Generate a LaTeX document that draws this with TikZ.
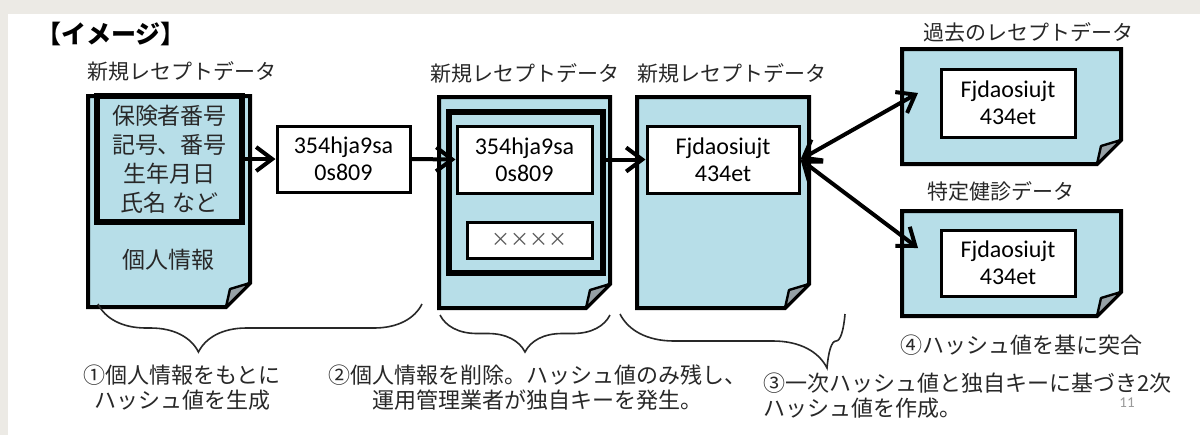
\documentclass[tikz,border=0pt]{standalone}
\usepackage{fontspec}
\setmainfont{Noto Sans CJK JP}
\newfontfamily\boxfont{Carlito}
\usetikzlibrary{arrows.meta}
\usetikzlibrary{decorations.pathreplacing}
\definecolor{docblue}{RGB}{183,222,232}
\definecolor{foldgray}{RGB}{150,160,165}
\definecolor{pagegray}{RGB}{236,234,229}
\definecolor{inkgray}{RGB}{40,40,40}
\tikzset{
	doc/.style={rectangle, inner sep=0pt, outer sep=0pt},
	docline/.style={draw=black, line width=2pt, fill=docblue},
	foldline/.style={draw=black, line width=1.2pt, fill=foldgray, line join=round},
	thickbox/.style={rectangle, draw=black, line width=3pt, fill=docblue, inner sep=0pt, text centered, align=center},
	hashbox/.style={rectangle, draw=black, line width=1.5pt, fill=white, text centered, align=center, inner sep=0pt, font=\boxfont\fontsize{12}{13.5}\selectfont},
	lbl/.style={font=\fontsize{10.5}{12}\selectfont, text=inkgray, inner sep=0pt},
	capt/.style={font=\fontsize{11}{12.5}\selectfont, text=inkgray, inner sep=0pt},
	arrow/.style={line width=2pt, -{Straight Barb[length=8pt,width=12pt]}},
	darrow/.style={line width=2pt, {Straight Barb[length=8pt,width=12pt]}-{Straight Barb[length=8pt,width=12pt]}},
	brc/.style={draw=inkgray, line width=0.8pt, decorate, decoration={brace, mirror, amplitude=#1}},
}
% page with folded corner, drawn round an empty node
\newcommand{\drawdoc}[1]{%
	\draw[docline] (#1.north west) -- (#1.north east) -- ([yshift=12pt]#1.south east) -- ([xshift=-12pt]#1.south east) -- (#1.south west) -- cycle;
	\draw[foldline] ([yshift=12pt]#1.south east) -- ([xshift=-12pt]#1.south east) -- ([xshift=-10pt,yshift=9pt]#1.south east) -- cycle;
}

\begin{document}
\begin{tikzpicture}[x=0.5pt,y=-0.5pt]
\useasboundingbox (0,0) rectangle (1200,435);
\fill[pagegray] (0,0) rectangle (1200,435);
\fill[white] (8,14) rectangle (1200,435);

\node [anchor=west, font=\bfseries\fontsize{12.5}{14}\selectfont, inner sep=0pt] (title) at (36,34) {【イメージ】};

% documents
\node [doc, minimum width=81pt, minimum height=105.5pt] (doc1) at (169,201.5) {};
\node [doc, minimum width=85.5pt, minimum height=105.5pt] (doc2) at (524.5,202.5) {};
\node [doc, minimum width=86pt, minimum height=105.5pt] (doc3) at (723,202.5) {};
\node [doc, minimum width=109.5pt, minimum height=57.5pt] (doc4) at (1011.5,106.5) {};
\node [doc, minimum width=109.5pt, minimum height=52.5pt] (doc5) at (1011.5,263.5) {};
\drawdoc{doc1}
\drawdoc{doc2}
\drawdoc{doc3}
\drawdoc{doc4}
\drawdoc{doc5}

\node [lbl] (lab1) at (182,71) {新規レセプトデータ};
\node [lbl] (lab2) at (525,73) {新規レセプトデータ};
\node [lbl] (lab3) at (732,73) {新規レセプトデータ};
\node [lbl] (lab4) at (1028,32) {過去のレセプトデータ};
\node [lbl] (lab5) at (1001,191) {特定健診データ};

% doc 1
\node [thickbox, minimum width=72.5pt, minimum height=63pt, font=\fontsize{11.5}{14.5}\selectfont, text=inkgray] (pinfo) at (169.5,159) {保険者番号\\記号、番号\\生年月日\\氏名 など};
\node [font=\fontsize{11.5}{13}\selectfont, text=inkgray, inner sep=0pt] (kojin) at (168,260) {個人情報};
\node [hashbox, minimum width=66.5pt, minimum height=33pt] (hashA) at (343.5,159) {354hja9sa\\0s809};

% doc 2
\node [thickbox, minimum width=77pt, minimum height=80.5pt] (inner2) at (526,192.5) {};
\node [hashbox, minimum width=67.5pt, minimum height=33.5pt] (hashB) at (524.5,159.5) {354hja9sa\\0s809};
\node [hashbox, minimum width=62.5pt, minimum height=18pt, font=\fontsize{9.5}{11}\selectfont, text=black!65] (xbox) at (529.5,240) {××××};

% doc 3, 4, 5
\node [hashbox, minimum width=76pt, minimum height=33.5pt] (hashC) at (723,159.5) {Fjdaosiujt\\434et};
\node [hashbox, minimum width=67pt, minimum height=34pt] (hashD) at (1008,103) {Fjdaosiujt\\434et};
\node [hashbox, minimum width=67pt, minimum height=33pt] (hashE) at (1008,263) {Fjdaosiujt\\434et};

\coordinate (tipD) at (918,93);
\coordinate (tipE) at (918,248);

\draw [arrow] (pinfo.east) -- (hashA.west);
\draw [arrow] (hashA.east) -- (hashB.west);
\draw [arrow] (inner2.east |- hashC.west) -- (hashC.west);
\draw [darrow] (hashC.east) -- (tipD);
\draw [darrow] (hashC.east) -- (tipE);

% braces
\coordinate (b1l) at (98,304);
\coordinate (b1r) at (422,304);
\coordinate (b2l) at (440,315);
\coordinate (b2r) at (610,315);
\coordinate (b3l) at (620,314);
\coordinate (b3r) at (845,314);
\draw [brc=24pt, decoration={aspect=0.31}] (b1l) -- (b1r);
\draw [brc=18.5pt] (b2l) -- (b2r);
\draw [brc=27pt, decoration={aspect=0.92}] (b3l) -- (b3r);

\node [capt, align=center] (step1) at (182,388) {①個人情報をもとに\\ハッシュ値を生成};
\node [capt, align=center] (step2) at (537,388) {②個人情報を削除。ハッシュ値のみ残し、\\運用管理業者が独自キーを発生。};
\node [capt, align=left, anchor=west] (step3) at (763,396) {③一次ハッシュ値と独自キーに基づき2次\\ハッシュ値を作成。};
\node [capt, anchor=west] (step4) at (900,345) {④ハッシュ値を基に突合};
\node [font=\boxfont\fontsize{7.5}{9}\selectfont, text=black!40, inner sep=0pt] (pageno) at (1127,403) {11};
\end{tikzpicture}
\end{document}
